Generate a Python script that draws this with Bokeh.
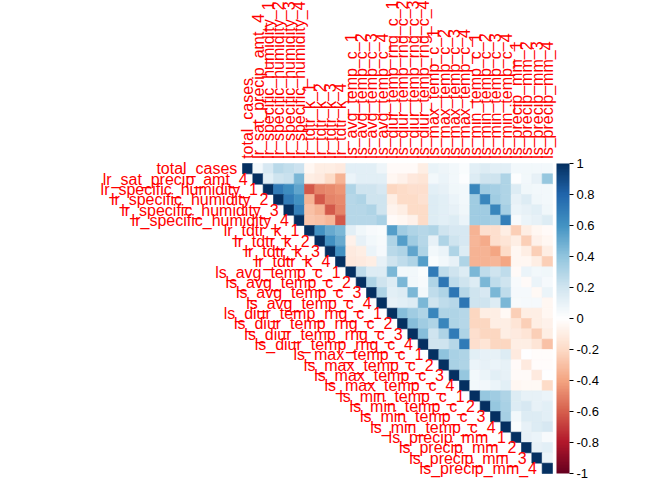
import math
from bokeh.plotting import figure
from bokeh.models import (ColumnDataSource, LinearColorMapper, ColorBar, FixedTicker,
                          Range1d, CustomJSTickFormatter)
from bokeh.core.properties import value
from bokeh.embed import file_html
from bokeh.resources import INLINE

variables = [
    "total_cases", "lr_sat_precip_amt_4",
    "lr_specific_humidity_1", "lr_specific_humidity_2", "lr_specific_humidity_3", "lr_specific_humidity_4",
    "lr_tdtr_k_1", "lr_tdtr_k_2", "lr_tdtr_k_3", "lr_tdtr_k_4",
    "ls_avg_temp_c_1", "ls_avg_temp_c_2", "ls_avg_temp_c_3", "ls_avg_temp_c_4",
    "ls_diur_temp_rng_c_1", "ls_diur_temp_rng_c_2", "ls_diur_temp_rng_c_3", "ls_diur_temp_rng_c_4",
    "ls_max_temp_c_1", "ls_max_temp_c_2", "ls_max_temp_c_3", "ls_max_temp_c_4",
    "ls_min_temp_c_1", "ls_min_temp_c_2", "ls_min_temp_c_3", "ls_min_temp_c_4",
    "ls_precip_mm_1", "ls_precip_mm_2", "ls_precip_mm_3", "ls_precip_mm_4",
]

# Upper-triangle correlations: row i holds values for columns i+1 .. 29
r00 = [0.05, 0.18, 0.27, 0.24, 0.21, -0.05, -0.10, -0.10, -0.12, 0.12, 0.12, 0.12, 0.07, -0.03, -0.03, -0.03, -0.10, 0.09, 0.07, 0.05, 0.02, 0.12, 0.15, 0.12, 0.12, 0.05, 0.05, 0.05, 0.05]
r01 = [0.12, 0.20, 0.22, 0.45, -0.10, -0.12, -0.20, -0.35, 0.08, 0.12, 0.12, 0.12, -0.05, -0.07, -0.13, -0.15, 0.05, 0.08, 0.05, 0.01, 0.15, 0.20, 0.20, 0.30, 0.01, 0.05, 0.10, 0.38]
r02 = [0.70, 0.62, 0.52, -0.62, -0.50, -0.48, -0.45, 0.30, 0.20, 0.20, 0.18, -0.22, -0.20, -0.18, -0.18, 0.13, 0.10, 0.06, 0.05, 0.65, 0.35, 0.33, 0.30, 0.15, 0.06, 0.05, 0.05]
r03 = [0.70, 0.60, -0.35, -0.62, -0.50, -0.48, 0.28, 0.30, 0.20, 0.20, -0.10, -0.20, -0.20, -0.17, 0.15, 0.13, 0.08, 0.05, 0.35, 0.65, 0.35, 0.30, 0.10, 0.15, 0.06, 0.05]
r04 = [0.68, -0.30, -0.35, -0.62, -0.50, 0.28, 0.28, 0.30, 0.20, -0.06, -0.10, -0.20, -0.20, 0.15, 0.12, 0.10, 0.06, 0.35, 0.35, 0.65, 0.33, 0.08, 0.10, 0.12, 0.06]
r05 = [-0.28, -0.30, -0.33, -0.62, 0.28, 0.28, 0.28, 0.32, -0.03, -0.05, -0.07, -0.20, 0.15, 0.12, 0.15, 0.08, 0.35, 0.35, 0.33, 0.68, 0.03, 0.08, 0.10, 0.15]
r06 = [0.60, 0.50, 0.45, 0.12, 0.06, 0.03, 0.02, 0.55, 0.35, 0.30, 0.28, 0.30, 0.20, 0.18, 0.18, -0.35, -0.18, -0.18, -0.10, -0.25, -0.10, -0.05, -0.03]
r07 = [0.60, 0.50, -0.08, 0.10, 0.05, 0.03, 0.30, 0.55, 0.35, 0.28, 0.10, 0.30, 0.20, 0.18, -0.33, -0.38, -0.18, -0.15, -0.10, -0.25, -0.08, -0.05]
r08 = [0.60, -0.12, -0.10, 0.08, 0.04, 0.27, 0.30, 0.52, 0.30, 0.05, 0.08, 0.30, 0.15, -0.35, -0.35, -0.40, -0.20, -0.05, -0.10, -0.25, -0.10]
r09 = [-0.13, -0.12, -0.10, 0.10, 0.20, 0.25, 0.30, 0.55, 0.02, 0.05, 0.10, 0.30, -0.35, -0.35, -0.33, -0.40, -0.05, -0.05, -0.10, -0.25]
r10 = [0.25, 0.15, 0.15, 0.45, 0.05, 0.05, 0.02, 0.70, 0.25, 0.20, 0.15, 0.45, 0.25, 0.20, 0.25, -0.03, 0.08, 0.05, 0.06]
r11 = [0.30, 0.20, 0.15, 0.45, 0.05, 0.03, 0.30, 0.72, 0.25, 0.20, 0.15, 0.45, 0.25, 0.20, 0.03, -0.03, 0.08, 0.04]
r12 = [0.30, 0.12, 0.15, 0.45, 0.05, 0.25, 0.30, 0.72, 0.28, 0.20, 0.18, 0.45, 0.25, 0.04, 0.04, -0.04, 0.08]
r13 = [0.10, 0.12, 0.15, 0.45, 0.20, 0.25, 0.28, 0.72, 0.20, 0.20, 0.15, 0.45, 0.03, 0.04, 0.04, -0.05]
r14 = [0.42, 0.35, 0.30, 0.65, 0.30, 0.30, 0.28, -0.22, -0.10, -0.10, -0.04, -0.25, -0.10, -0.10, -0.05]
r15 = [0.42, 0.35, 0.30, 0.65, 0.30, 0.28, -0.22, -0.22, -0.10, -0.10, -0.15, -0.25, -0.10, -0.08]
r16 = [0.42, 0.20, 0.30, 0.70, 0.30, -0.18, -0.22, -0.22, -0.10, -0.12, -0.15, -0.25, -0.10]
r17 = [0.20, 0.20, 0.28, 0.70, -0.18, -0.15, -0.22, -0.22, -0.10, -0.10, -0.15, -0.30]
r18 = [0.40, 0.32, 0.30, 0.12, 0.10, 0.10, 0.15, -0.12, 0.00, -0.02, -0.02]
r19 = [0.32, 0.30, 0.08, 0.10, 0.08, 0.10, -0.03, -0.12, -0.02, -0.02]
r20 = [0.38, 0.05, 0.08, 0.12, 0.10, -0.03, -0.03, -0.12, 0.00]
r21 = [0.05, 0.05, 0.08, 0.12, -0.05, -0.04, -0.04, -0.20]
r22 = [0.38, 0.35, 0.30, 0.15, 0.10, 0.10, 0.08]
r23 = [0.38, 0.32, 0.15, 0.18, 0.10, 0.12]
r24 = [0.33, 0.05, 0.15, 0.15, 0.12]
r25 = [0.02, 0.10, 0.15, 0.18]
r26 = [0.10, 0.08, 0.03]
r27 = [0.10, 0.12]
r28 = [0.08]
upper_rows = [r00, r01, r02, r03, r04, r05, r06, r07, r08, r09, r10, r11, r12, r13, r14,
              r15, r16, r17, r18, r19, r20, r21, r22, r23, r24, r25, r26, r27, r28, []]

colorbar_ticks = [-1, -0.8, -0.6, -0.4, -0.2, 0, 0.2, 0.4, 0.6, 0.8, 1]

# corrplot RdBu ramp (200 colours)
stops = ["#67001F", "#B2182B", "#D6604D", "#F4A582", "#FDDBC7", "#FFFFFF",
         "#D1E5F0", "#92C5DE", "#4393C3", "#2166AC", "#053061"]


def hex2rgb(h):
    return tuple(int(h[k:k + 2], 16) for k in (1, 3, 5))


palette = []
N = 200
for k in range(N):
    t = k / (N - 1) * (len(stops) - 1)
    i0 = min(int(math.floor(t)), len(stops) - 2)
    f = t - i0
    a, b = hex2rgb(stops[i0]), hex2rgb(stops[i0 + 1])
    c = tuple(int(round(a[m] + (b[m] - a[m]) * f)) for m in range(3))
    palette.append("#%02X%02X%02X" % c)

n = len(variables)
xs, ys, rs = [], [], []
for i in range(n):
    xs.append(i + 0.5)
    ys.append(-i - 0.5)
    rs.append(1.0)
    for j, v in enumerate(upper_rows[i]):
        col = i + 1 + j
        xs.append(col + 0.5)
        ys.append(-i - 0.5)
        rs.append(v)

cells = ColumnDataSource(dict(x=xs, y=ys, r=rs))
mapper = LinearColorMapper(palette=palette, low=-1, high=1)

s = 310 / 30.0
x0, y0 = 242, 163
p = figure(width=672, height=480, output_backend="svg", toolbar_location=None,
           x_range=Range1d(-x0 / s, (672 - x0) / s),
           y_range=Range1d(y0 / s - 480 / s, y0 / s),
           x_axis_location=None, y_axis_location=None, min_border=0,
           outline_line_color=None)
p.grid.visible = False

p.rect(x="x", y="y", width=1, height=1, source=cells,
       fill_color={"field": "r", "transform": mapper},
       line_color={"field": "r", "transform": mapper}, line_width=0.6)

left_src = ColumnDataSource(dict(x=[i - 0.5 for i in range(n)],
                                 y=[-i - 0.5 for i in range(n)], t=variables))
p.text(x="x", y="y", text="t", source=left_src, text_align="right",
       text_baseline="middle", text_color="red", text_font=value("Liberation Sans"),
       text_font_size="16px")

top_src = ColumnDataSource(dict(x=[j + 0.5 for j in range(n)],
                                y=[0.45] * n, t=variables))
p.text(x="x", y="y", text="t", source=top_src, angle=math.pi / 2, text_align="left",
       text_baseline="middle", text_color="red", text_font=value("Liberation Sans"),
       text_font_size="16px")

cb = ColorBar(color_mapper=mapper, ticker=FixedTicker(ticks=colorbar_ticks),
              formatter=CustomJSTickFormatter(code="return String(Math.round(tick*10)/10);"),
              location=(556, 7), width=13, height=310, padding=0, margin=0,
              major_tick_in=0, major_tick_out=4, major_tick_line_color="black",
              label_standoff=3, major_label_text_font_size="13px",
              major_label_text_font="Liberation Sans", major_label_text_color="black",
              background_fill_alpha=0, bar_line_color=None, border_line_color=None)
p.add_layout(cb)

open("out.html", "w").write(file_html(p, INLINE))
